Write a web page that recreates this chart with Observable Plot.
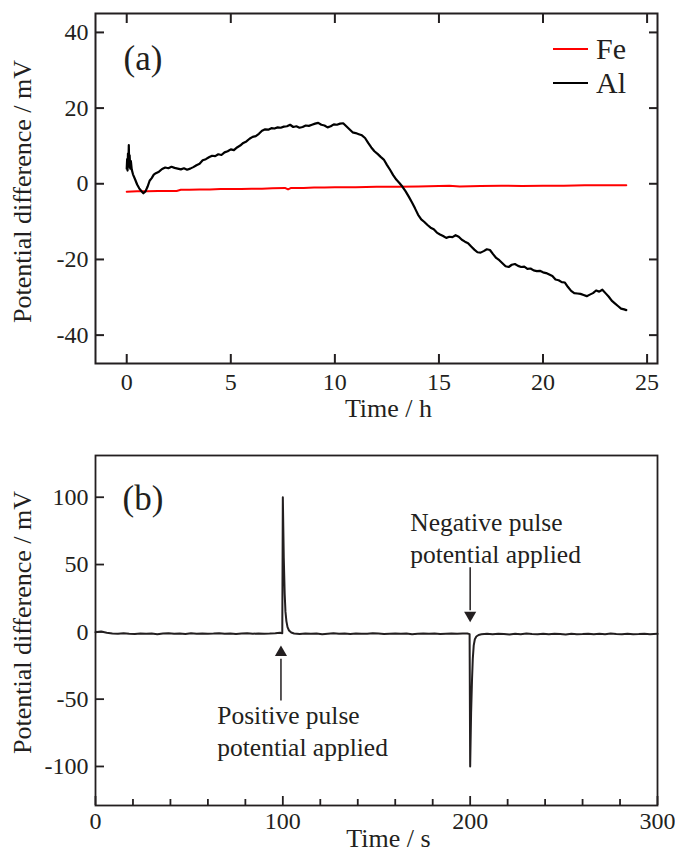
<!DOCTYPE html>
<html><head><meta charset="utf-8">
<script src="https://cdn.jsdelivr.net/npm/d3@7"></script>
<script src="https://cdn.jsdelivr.net/npm/@observablehq/plot@0.6"></script>
<style>
html,body{margin:0;padding:0;background:#fff;}
#wrap{position:relative;width:675px;height:853px;font-family:"Liberation Serif",serif;color:#231f20;}
#top,#bottom{position:absolute;left:0;}
#top{top:0;}
#bottom{top:430px;}
svg{display:block;}
.legend{position:absolute;left:553px;top:32px;font-size:30px;}
.legend .item{display:flex;align-items:center;height:34px;}
.legend .sw{display:inline-block;width:35px;height:2px;margin-right:8px;}
</style>
</head><body>
<div id="wrap"><div id="top"></div><div id="bottom"></div><div class="legend" id="legend"></div></div>
<script>
// ---------- Data: panel (a) ----------
const seriesNames = ["Fe", "Al"];
const seriesColors = ["#ff0000", "#000000"];
const hourTicks = [0, 5, 10, 15, 20, 25];
const mvTicksA = [-40, -20, 0, 20, 40];

const feSeries = [[0,-2.1],[0.5,-2.0],[1,-2.0],[1.5,-1.9],[2,-1.9],[2.4,-1.9],[2.6,-1.6],[3,-1.6],[3.5,-1.5],[4,-1.5],[4.5,-1.4],[5,-1.4],[5.5,-1.4],[6,-1.3],[6.5,-1.3],[7,-1.2],[7.6,-1.1],[7.75,-1.5],[7.9,-1.1],[8.5,-1.1],[9,-1.0],[9.5,-1.0],[10,-0.9],[11,-0.9],[12,-0.8],[13,-0.8],[14,-0.7],[15,-0.6],[15.5,-0.5],[16,-0.7],[17,-0.6],[18,-0.5],[19,-0.6],[20,-0.5],[21,-0.5],[22,-0.4],[23,-0.4],[24,-0.4]];

const alSeries = [[0,4],[0.02,6.5],[0.04,3.5],[0.06,8],[0.08,5],[0.1,10.2],[0.12,4.5],[0.14,7.5],[0.17,4],[0.2,6],[0.24,3.8],[0.3,2.5],[0.4,1.2],[0.5,-0.2],[0.6,-1.2],[0.7,-1.9],[0.8,-2.5],[0.9,-2.0],[1.0,-0.8],[1.1,0.8],[1.2,1.5],[1.3,2.4],[1.4,2.8],[1.55,3.2],[1.7,3.9],[1.85,4.3],[2.0,4.1],[2.15,4.5],[2.3,4.2],[2.45,4.0],[2.6,3.8],[2.75,4.1],[2.9,3.7],[3.05,4.0],[3.2,4.4],[3.35,4.9],[3.5,5.3],[3.65,6.2],[3.8,6.5],[3.95,7.0],[4.1,7.4],[4.25,7.3],[4.4,7.8],[4.55,7.6],[4.7,8.3],[4.85,8.6],[5.0,9.1],[5.15,8.9],[5.3,9.6],[5.45,10.1],[5.6,10.8],[5.75,11.2],[5.9,11.9],[6.05,12.4],[6.2,12.6],[6.35,13.2],[6.5,14.0],[6.65,14.4],[6.8,14.3],[6.95,14.7],[7.1,14.6],[7.25,14.9],[7.4,14.8],[7.55,15.1],[7.7,15.2],[7.85,15.6],[8.0,15.0],[8.15,15.2],[8.3,14.8],[8.45,15.0],[8.6,15.4],[8.75,15.3],[8.9,15.6],[9.05,15.9],[9.2,16.1],[9.35,15.6],[9.5,15.4],[9.65,14.9],[9.8,15.2],[9.95,15.7],[10.1,15.6],[10.25,15.9],[10.4,16.0],[10.55,15.2],[10.7,14.4],[10.85,13.6],[11.0,13.4],[11.15,13.1],[11.3,12.8],[11.45,12.1],[11.6,10.8],[11.75,9.6],[11.9,8.6],[12.05,7.9],[12.2,7.1],[12.35,6.4],[12.5,5.0],[12.65,3.7],[12.8,2.3],[12.95,1.1],[13.1,0.2],[13.25,-0.8],[13.4,-2.0],[13.55,-3.4],[13.7,-4.9],[13.85,-6.5],[14.0,-8.2],[14.15,-9.4],[14.3,-10.1],[14.45,-10.9],[14.6,-11.6],[14.75,-12.0],[14.9,-12.9],[15.05,-13.4],[15.2,-13.8],[15.35,-14.3],[15.5,-14.0],[15.65,-14.1],[15.8,-13.6],[15.95,-14.0],[16.1,-14.8],[16.25,-15.3],[16.4,-15.7],[16.55,-16.6],[16.7,-17.4],[16.85,-18.1],[17.0,-18.2],[17.15,-17.8],[17.3,-17.3],[17.45,-17.5],[17.6,-18.6],[17.75,-19.6],[17.9,-20.2],[18.05,-21.0],[18.2,-21.8],[18.35,-22.0],[18.5,-21.4],[18.65,-21.2],[18.8,-21.7],[18.95,-22.0],[19.1,-21.9],[19.25,-22.5],[19.4,-22.4],[19.55,-22.9],[19.7,-23.1],[19.85,-23.0],[20.0,-23.4],[20.15,-23.6],[20.3,-24.0],[20.45,-24.4],[20.6,-25.3],[20.75,-25.5],[20.9,-26.0],[21.05,-26.1],[21.2,-27.3],[21.35,-28.3],[21.5,-28.9],[21.65,-29.0],[21.8,-29.1],[21.95,-29.4],[22.1,-29.7],[22.25,-29.3],[22.4,-28.9],[22.55,-28.2],[22.7,-28.5],[22.85,-28.0],[23.0,-28.9],[23.15,-29.8],[23.3,-30.9],[23.45,-31.6],[23.6,-32.3],[23.75,-33.0],[23.9,-33.2],[24.0,-33.4]];

// ---------- Data: panel (b) ----------
const secTicks = [0, 100, 200, 300];
const secMinorTicks = [20, 40, 60, 80, 120, 140, 160, 180, 220, 240, 260, 280];
const mvTicksB = [-100, -50, 0, 50, 100];

const pulseSeries = [[0,-0.3],[3,0.2],[6,-0.6],[9,-1.2],[12,-1.5],[15,-1.1],[18,-1.4],[21,-1.6],[24,-1.2],[27,-1.5],[30,-1.3],[33,-1.7],[36,-1.2],[39,-1.0],[42,-1.5],[45,-1.3],[48,-1.6],[51,-1.1],[54,-1.4],[57,-1.2],[60,-1.5],[63,-1.3],[66,-1.0],[69,-1.4],[72,-1.2],[75,-1.6],[78,-1.3],[81,-1.1],[84,-1.4],[87,-1.2],[90,-1.5],[93,-1.3],[96,-1.0],[98.5,-0.6],[99.7,-1.0],
[100,100],[100.5,55],[101,28],[101.4,15],[101.9,8],[102.5,3.5],[103.3,1],[104.5,-0.5],[106,-1.2],
[109,-1.6],[112,-1.2],[115,-1.5],[118,-1.3],[121,-1.7],[124,-1.4],[127,-1.1],[130,-1.5],[133,-1.3],[136,-1.6],[139,-1.2],[142,-1.4],[145,-1.5],[148,-1.1],[151,-1.3],[154,-1.6],[157,-1.4],[160,-1.2],[163,-1.5],[166,-1.3],[169,-1.7],[172,-1.4],[175,-1.2],[178,-1.5],[181,-1.3],[184,-1.6],[187,-1.4],[190,-1.2],[193,-1.5],[196,-1.3],[198.5,-1.2],[199.7,-1.7],
[200,-100],[200.5,-60],[201,-35],[201.4,-20],[201.9,-10],[202.5,-5.5],[203.3,-3.5],[204.5,-2.3],[206,-1.8],
[209,-1.5],[212,-1.8],[215,-1.4],[218,-1.6],[221,-1.9],[224,-1.5],[227,-1.7],[230,-1.3],[233,-1.6],[236,-1.8],[239,-1.5],[242,-1.7],[245,-1.4],[248,-1.6],[251,-1.9],[254,-1.5],[257,-1.7],[260,-1.6],[263,-1.4],[266,-1.8],[269,-1.5],[272,-1.7],[275,-1.3],[278,-1.6],[281,-1.8],[284,-1.5],[287,-1.7],[290,-1.6],[293,-1.4],[296,-1.7],[300,-1.5]];

const pulseNotes = [
  {t: 65, v: -72.8, text: "Positive pulse\npotential applied"},
  {t: 168, v: 70.5, text: "Negative pulse\npotential applied"}
];
const pulseArrows = [
  {t: 99, tail: -51, end: -20, head: -15.3, rot: 0},
  {t: 200, tail: 48, end: 16, head: 12.3, rot: 180}
];

const ink = "#231f20";
const fmt = d => String(d);
const baseStyle = {fontFamily: '"Liberation Serif", serif', fontSize: "24px", color: ink, background: "transparent", overflow: "visible"};

// ---------- Panel (a) ----------
const plotA = Plot.plot({
  width: 675, height: 430,
  marginTop: 13, marginBottom: 67, marginLeft: 95, marginRight: 18,
  style: baseStyle,
  x: {domain: [-1.5, 25.5]},
  y: {domain: [-47.5, 45]},
  marks: [
    Plot.line(feSeries, {x: d => d[0], y: d => d[1], stroke: seriesColors[0], strokeWidth: 2}),
    Plot.line(alSeries, {x: d => d[0], y: d => d[1], stroke: seriesColors[1], strokeWidth: 2.2}),
    Plot.frame({stroke: ink, strokeWidth: 2}),
    Plot.axisX({anchor: "bottom", ticks: hourTicks, tickSize: 9, dy: -9, fill: null, label: null, strokeWidth: 2, stroke: ink}),
    Plot.axisX({anchor: "top", ticks: hourTicks, tickSize: 9, dy: 9, fill: null, label: null, strokeWidth: 2, stroke: ink}),
    Plot.axisY({anchor: "left", ticks: mvTicksA, tickSize: 9, dx: 9, fill: null, label: null, strokeWidth: 2, stroke: ink}),
    Plot.axisY({anchor: "right", ticks: mvTicksA, tickSize: 9, dx: -9, fill: null, label: null, strokeWidth: 2, stroke: ink}),
    Plot.axisX({anchor: "bottom", ticks: hourTicks, tickSize: 0, tickPadding: 9, tickFormat: fmt, label: null, fontSize: 24, fill: ink}),
    Plot.axisY({anchor: "left", ticks: mvTicksA, tickSize: 0, tickPadding: 7, tickFormat: fmt, label: null, fontSize: 24, fill: ink}),
    Plot.text(["Time / h"], {text: d => d, frameAnchor: "bottom", dx: 12, dy: 45, fontSize: 26, textAnchor: "middle", lineAnchor: "middle", fill: ink}),
    Plot.text(["Potential difference / mV"], {text: d => d, frameAnchor: "left", rotate: -90, dx: -73, dy: 3, fontSize: 26, textAnchor: "middle", lineAnchor: "middle", fill: ink}),
    Plot.text(["(a)"], {text: d => d, frameAnchor: "top-left", dx: 28, dy: 45, fontSize: 35, textAnchor: "start", lineAnchor: "middle", fill: ink})
  ]
});
document.getElementById("top").appendChild(plotA);

// legend
const legend = document.getElementById("legend");
seriesNames.forEach((name, i) => {
  const item = document.createElement("div");
  item.className = "item";
  const sw = document.createElement("span");
  sw.className = "sw";
  sw.style.background = seriesColors[i];
  item.appendChild(sw);
  item.appendChild(document.createTextNode(name));
  legend.appendChild(item);
});

// ---------- Panel (b) ----------
const plotB = Plot.plot({
  width: 675, height: 423,
  marginTop: 25, marginBottom: 48, marginLeft: 95, marginRight: 18,
  style: baseStyle,
  x: {domain: [0, 300]},
  y: {domain: [-129, 131]},
  marks: [
    Plot.line(pulseSeries, {x: d => d[0], y: d => d[1], stroke: ink, strokeWidth: 2}),
    Plot.frame({stroke: ink, strokeWidth: 1.8}),
    Plot.axisX({anchor: "bottom", ticks: secTicks, tickSize: 9, dy: -9, fill: null, label: null, strokeWidth: 1.8, stroke: ink}),
    Plot.axisX({anchor: "bottom", ticks: secMinorTicks, tickSize: 6, dy: -6, fill: null, label: null, strokeWidth: 1.8, stroke: ink}),
    Plot.axisY({anchor: "left", ticks: mvTicksB, tickSize: 9, dx: 9, fill: null, label: null, strokeWidth: 1.8, stroke: ink}),
    Plot.axisX({anchor: "bottom", ticks: secTicks, tickSize: 0, tickPadding: 6, tickFormat: fmt, label: null, fontSize: 24, fill: ink}),
    Plot.axisY({anchor: "left", ticks: mvTicksB, tickSize: 0, tickPadding: 7, tickFormat: fmt, label: null, fontSize: 24, fill: ink}),
    Plot.link(pulseArrows, {x1: "t", y1: "tail", x2: "t", y2: "end", stroke: ink, strokeWidth: 1.5}),
    Plot.dot(pulseArrows, {x: "t", y: "head", symbol: "triangle", r: 4.5, fill: ink, stroke: null, rotate: "rot"}),
    Plot.text(pulseNotes, {x: "t", y: "v", text: "text", textAnchor: "start", lineAnchor: "middle", lineHeight: 1.25, fontSize: 25.5, fill: ink}),
    Plot.text(["Time / s"], {text: d => d, frameAnchor: "bottom", dx: 12, dy: 33, fontSize: 26, textAnchor: "middle", lineAnchor: "middle", fill: ink}),
    Plot.text(["Potential difference / mV"], {text: d => d, frameAnchor: "left", rotate: -90, dx: -73, dy: -8, fontSize: 26, textAnchor: "middle", lineAnchor: "middle", fill: ink}),
    Plot.text(["(b)"], {text: d => d, frameAnchor: "top-left", dx: 27, dy: 43, fontSize: 35, textAnchor: "start", lineAnchor: "middle", fill: ink})
  ]
});
document.getElementById("bottom").appendChild(plotB);
</script>
</body></html>
